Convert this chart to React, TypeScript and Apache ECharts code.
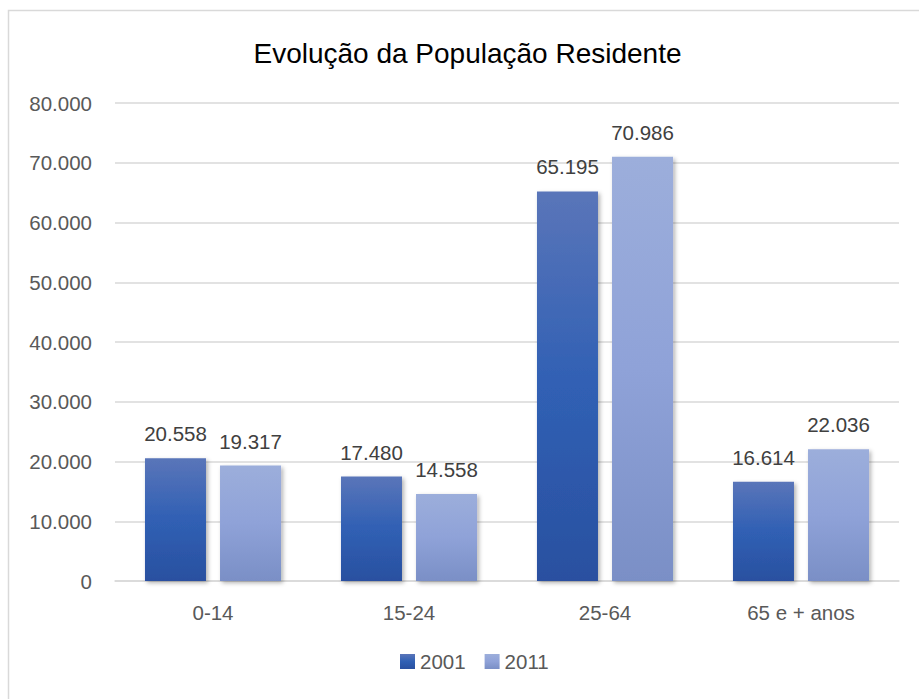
import React, { useEffect, useRef } from "react";
import * as echarts from "echarts";

const categories = ["0-14", "15-24", "25-64", "65 e + anos"];
const values2001 = [20558, 17480, 65195, 16614];
const values2011 = [19317, 14558, 70986, 22036];
const seriesNames = ["2001", "2011"];
const chartTitle = "Evolução da População Residente";

const fmt = (v: number) => {
  const s = Math.round(v).toString();
  return s.replace(/\B(?=(\d{3})+(?!\d))/g, ".");
};

const FONT = "'Liberation Sans', Arial, sans-serif";
const FS = 20.5;

export default function App() {
  const ref = useRef<HTMLDivElement>(null);
  useEffect(() => {
    if (!ref.current) return;
    const chart = echarts.init(ref.current, null, { renderer: "svg" });
    const grad = (a: string, b: string, c: string) =>
      new echarts.graphic.LinearGradient(0, 0, 0, 1, [
        { offset: 0, color: a },
        { offset: 0.5, color: b },
        { offset: 1, color: c },
      ]);
    const shadow = {
      shadowColor: "rgba(0,0,0,0.3)",
      shadowBlur: 4,
      shadowOffsetX: 2,
      shadowOffsetY: 2,
    };
    const label = {
      show: true,
      position: "top" as const,
      distance: 14,
      color: "#404040",
      fontSize: FS,
      fontFamily: FONT,
      formatter: (p: any) => fmt(p.value),
    };
    chart.setOption({
      animation: false,
      backgroundColor: "#ffffff",
      title: {
        text: chartTitle,
        left: "center",
        top: 34,
        textStyle: { fontSize: 28, fontWeight: "normal", color: "#000000", fontFamily: FONT },
      },
      graphic: [
        {
          type: "rect",
          shape: { x: 8.5, y: 10.5, width: 940, height: 720 },
          style: { fill: "none", stroke: "#d9d9d9", lineWidth: 1.5 },
          silent: true,
        },
      ],
      legend: {
        data: seriesNames,
        bottom: 22,
        left: 395,
        itemWidth: 15,
        itemHeight: 15,
        itemGap: 19,
        icon: "rect",
        textStyle: { fontSize: FS, color: "#595959", fontFamily: FONT },
      },
      grid: { left: 115, right: 36, top: 103, bottom: 118, containLabel: false },
      xAxis: {
        type: "category",
        data: categories,
        axisLine: { lineStyle: { color: "#d9d9d9", width: 1.5 } },
        axisTick: { show: false },
        axisLabel: { color: "#595959", fontSize: FS, fontFamily: FONT, margin: 21 },
      },
      yAxis: {
        type: "value",
        min: 0,
        max: 80000,
        interval: 10000,
        axisLine: { show: false },
        axisTick: { show: false },
        splitLine: { lineStyle: { color: "#d9d9d9", width: 1.5 } },
        axisLabel: {
          color: "#595959",
          fontSize: FS,
          fontFamily: FONT,
          margin: 23,
          formatter: (v: number) => fmt(v),
        },
      },
      series: [
        {
          name: seriesNames[0],
          type: "bar",
          data: values2001,
          barWidth: 61,
          barGap: "23%",
          itemStyle: { color: grad("#5a75b9", "#3060b4", "#2a50a0"), ...shadow },
          label,
        },
        {
          name: seriesNames[1],
          type: "bar",
          data: values2011,
          barWidth: 61,
          barGap: "23%",
          itemStyle: { color: grad("#9caedb", "#8fa2d8", "#7a8fc6"), ...shadow },
          label,
        },
      ],
    });
    return () => chart.dispose();
  }, []);
  return (
    <div
      ref={ref}
      style={{ position: "fixed", left: 0, top: 0, width: 935, height: 699 }}
    />
  );
}
